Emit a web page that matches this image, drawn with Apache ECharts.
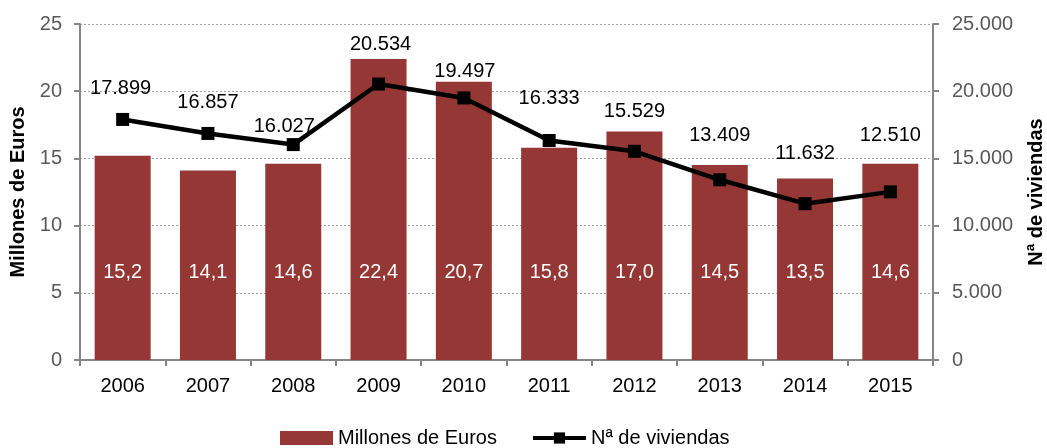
<!DOCTYPE html>
<html><head><meta charset="utf-8">
<script src="https://cdn.jsdelivr.net/npm/echarts@6/dist/echarts.min.js"></script>
<style>html,body{margin:0;padding:0;background:#fff}#c{width:1047px;height:448px}</style>
</head><body><div id="c"></div>
<script>
const categories = ['2006','2007','2008','2009','2010','2011','2012','2013','2014','2015'];
const euros = [15.2, 14.1, 14.6, 22.4, 20.7, 15.8, 17.0, 14.5, 13.5, 14.6];
const viviendas = [17899, 16857, 16027, 20534, 19497, 16333, 15529, 13409, 11632, 12510];
const leftTicks = [0, 5, 10, 15, 20, 25];
const rightTicks = [0, 5000, 10000, 15000, 20000, 25000];
// label offsets [dx, dy] for line labels (from reference placement)
const lineLabelOffsets = [[-2,-31],[0,-31],[-9,-18],[2,-40],[1,-26],[0,-42],[0,-40],[0,-44],[0,-50],[0,-56]];

const fmtThousands = v => String(Math.round(v)).replace(/\B(?=(\d{3})+(?!\d))/g, '.');
const fmtDec = v => v.toFixed(1).replace('.', ',');
const FONT = 'Liberation Sans, Arial, sans-serif';

const chart = echarts.init(document.getElementById('c'));
chart.setOption({
  animation: false,
  textStyle: {fontFamily: FONT},
  grid: {left: 80, right: 114, top: 24, bottom: 88, containLabel: false, outerBoundsMode: 'none'},
  legend: {
    left: 275, top: 423, itemGap: 34, itemWidth: 53, itemHeight: 14,
    textStyle: {fontSize: 20, color: '#000', fontFamily: FONT},
    data: [{name: 'Millones de Euros', icon: 'rect'},
           {name: 'Nª de viviendas', lineStyle: {width: 4, color: '#000'}}]
  },
  xAxis: {
    type: 'category', data: categories,
    axisLine: {lineStyle: {color: '#868686', width: 2}},
    axisTick: {show: true, alignWithLabel: false, length: 6, lineStyle: {color: '#868686', width: 2}},
    axisLabel: {color: '#000', fontSize: 20, margin: 16, fontFamily: FONT}
  },
  yAxis: [{
    type: 'value', min: 0, max: 25, interval: 5,
    name: 'Millones de Euros', nameLocation: 'middle', nameGap: 49, nameRotate: 90,
    nameTextStyle: {fontSize: 20, fontWeight: 'bold', color: '#000', fontFamily: FONT},
    axisLine: {show: true, lineStyle: {color: '#868686', width: 2}},
    axisTick: {show: true, length: 6, lineStyle: {color: '#868686', width: 2}},
    axisLabel: {color: '#595959', fontSize: 20, margin: 18, fontFamily: FONT,
      formatter: v => leftTicks.includes(v) ? String(v) : ''},
    splitLine: {show: true, lineStyle: {color: '#a6a6a6', type: [2, 2], width: 1}}
  }, {
    type: 'value', min: 0, max: 25000, interval: 5000, position: 'right',
    name: 'Nª de viviendas', nameLocation: 'middle', nameGap: 93, nameRotate: 90,
    nameTextStyle: {fontSize: 20, fontWeight: 'bold', color: '#000', fontFamily: FONT},
    axisLine: {show: true, lineStyle: {color: '#868686', width: 2}},
    axisTick: {show: true, length: 6, lineStyle: {color: '#868686', width: 2}},
    axisLabel: {color: '#595959', fontSize: 20, margin: 19, fontFamily: FONT,
      formatter: v => rightTicks.includes(v) ? fmtThousands(v) : ''},
    splitLine: {show: false}
  }],
  series: [{
    name: 'Millones de Euros', type: 'bar', yAxisIndex: 0, data: euros,
    barWidth: 56, itemStyle: {color: '#953735'},
    label: {show: true, position: 'insideBottom', distance: 78, color: '#fff', fontSize: 20,
      fontFamily: FONT, formatter: p => fmtDec(p.value)},
    z: 2
  }, {
    name: 'Nª de viviendas', type: 'line', yAxisIndex: 1,
    data: viviendas.map((v, i) => ({value: v, label: {offset: lineLabelOffsets[i]}})),
    lineStyle: {color: '#000', width: 4.5}, itemStyle: {color: '#000'},
    symbol: 'rect', symbolSize: 13,
    label: {show: true, position: 'inside', color: '#000', fontSize: 20, fontFamily: FONT,
      formatter: p => fmtThousands(p.value)},
    z: 5
  }]
});
</script></body></html>
